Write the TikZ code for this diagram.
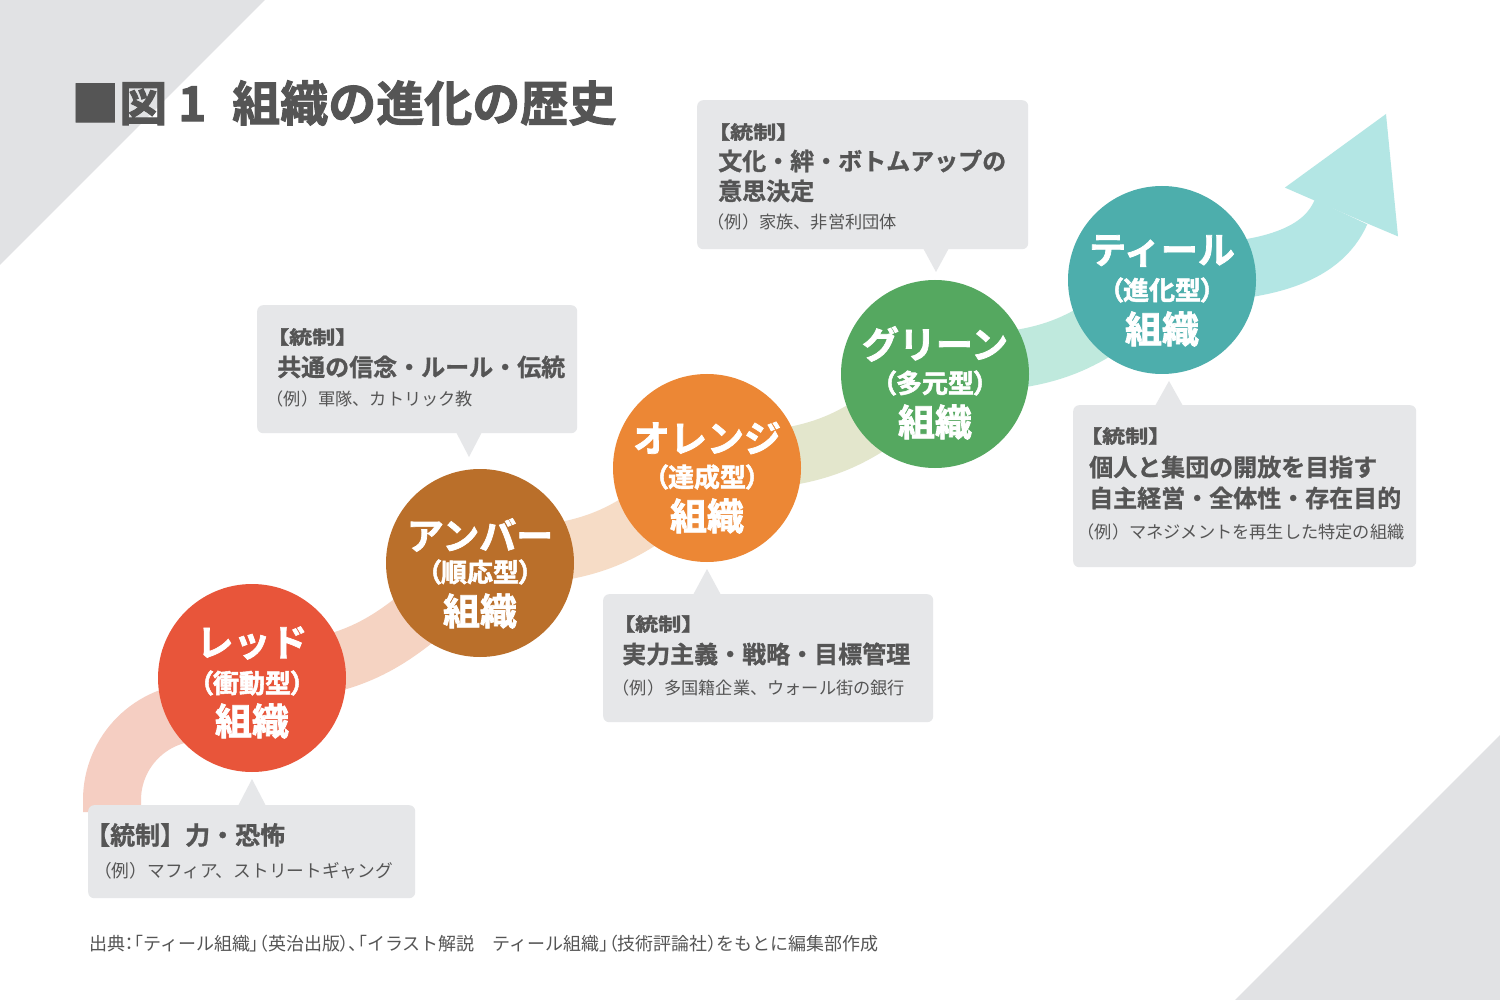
\documentclass[tikz,border=0pt]{standalone}
\usepackage{fontspec}
\setmainfont{Noto Sans CJK JP}[BoldFont={* Bold}]
\newfontfamily\jpp{Noto Sans CJK JP}[RawFeature=+palt]
\newfontfamily\jph{Noto Sans CJK JP Bold}[FakeBold=2]
\newfontfamily\jphp{Noto Sans CJK JP Bold}[FakeBold=2,RawFeature=+palt]
\newfontfamily\jpb{Noto Sans CJK JP Bold}[FakeBold=1]
\definecolor{bgtri}{HTML}{E1E2E4}
\definecolor{boxc}{HTML}{E6E7E9}
\definecolor{txtc}{HTML}{555555}
\definecolor{cRed}{HTML}{E8553A}
\definecolor{cAmb}{HTML}{BA6F2A}
\definecolor{cOra}{HTML}{EC8735}
\definecolor{cGre}{HTML}{55A860}
\definecolor{cTea}{HTML}{4DAEAC}
\definecolor{s0}{HTML}{F5CEC2}
\definecolor{s1}{HTML}{F5D3C2}
\definecolor{s2}{HTML}{F6DCC6}
\definecolor{s3}{HTML}{E3E6CC}
\definecolor{s4}{HTML}{BFE9DD}
\definecolor{s5}{HTML}{B3E6E4}
\newcommand\hdr{{\jph\scalebox{1}[0.8]{【統制】}}}
\tikzset{
  band/.style={line width=58pt, line cap=butt},
  circ/.style={circle, minimum size=188pt, inner sep=0pt},
  box/.style={fill=boxc, rounded corners=6pt, inner sep=0pt, anchor=north west},
  ptr/.style={fill=boxc},
  bt/.style={anchor=west, inner sep=0pt, text=txtc, font=\jpb\fontsize{24pt}{24pt}\selectfont},
  ht/.style={anchor=west, inner sep=0pt, text=txtc, font=\fontsize{23pt}{23pt}\selectfont},
  et/.style={anchor=west, inner sep=0pt, text=txtc, font=\fontsize{17.2pt}{17.2pt}\selectfont},
  nm/.style={inner sep=0pt, text=white, font=\jph\fontsize{37pt}{37pt}\selectfont},
  sb/.style={inner sep=0pt, text=white, font=\jphp\fontsize{26pt}{26pt}\selectfont},
}
\begin{document}
\begin{tikzpicture}[x=1pt,y=-1pt]
\useasboundingbox (0,0) rectangle (1500,1000);
\fill[white] (0,0) rectangle (1500,1000);
\fill[bgtri] (0,0) -- (265,0) -- (0,265) -- cycle;
\fill[bgtri] (1500,735) -- (1500,1000) -- (1235,1000) -- cycle;

% centres
\coordinate (cR) at (252,678);
\coordinate (cA) at (480,563);
\coordinate (cO) at (707,468);
\coordinate (cG) at (935,374);
\coordinate (cT) at (1162,280);
\coordinate (base) at (1341,212);
\coordinate (start) at (112,812);

% ribbon
\draw[band, draw=s0] (start) -- (112,800) .. controls (112,751.4) and (151.4,712) .. (200,712) -- (cR);
\draw[band, draw=s1] ([yshift=6pt]cR) .. controls +(120,0) and +(-75,65) .. (cA);
\draw[band, draw=s2] ([yshift=6pt]cA) .. controls +(120,0) and +(-75,65) .. (cO);
\draw[band, draw=s3] ([yshift=6pt]cO) .. controls +(120,0) and +(-75,65) .. (cG);
\draw[band, draw=s4] ([yshift=10pt]cG) .. controls +(120,0) and +(-75,65) .. (cT);
\draw[band, draw=s5] ([yshift=6pt]cT) .. controls +(100,0) and +(-20,46) .. (base);
\fill[s5] (1314.3,200.4) -- (1284.9,187.6) -- (1386,114) -- (1398,236.4) -- (1367.7,223.6) -- cycle;

% circles
\node[circ, fill=cRed] (red) at (cR) {};
\node[circ, fill=cAmb] (amber) at (cA) {};
\node[circ, fill=cOra] (orange) at (cO) {};
\node[circ, fill=cGre] (green) at (cG) {};
\node[circ, fill=cTea] (teal) at (cT) {};

\node[nm] (redN) at ([yshift=35pt]red.center) {レッド};
\node[sb] (redS) at ([yshift=-5pt]red.center) {（衝動型）};
\node[nm] (redO) at ([yshift=-43pt]red.center) {組織};

\node[nm] (ambN) at ([yshift=28pt]amber.center) {アンバー};
\node[sb] (ambS) at ([yshift=-9pt]amber.center) {（順応型）};
\node[nm] (ambO) at ([yshift=-48pt]amber.center) {組織};

\node[nm] (oraN) at ([yshift=30pt]orange.center) {オレンジ};
\node[sb] (oraS) at ([yshift=-9pt]orange.center) {（達成型）};
\node[nm] (oraO) at ([yshift=-48pt]orange.center) {組織};

\node[nm] (greN) at ([yshift=30pt]green.center) {グリーン};
\node[sb] (greS) at ([yshift=-9pt]green.center) {（多元型）};
\node[nm] (greO) at ([yshift=-48pt]green.center) {組織};

\node[nm] (teaN) at ([yshift=29pt]teal.center) {ティール};
\node[sb] (teaS) at ([yshift=-10pt]teal.center) {（進化型）};
\node[nm] (teaO) at ([yshift=-49pt]teal.center) {組織};

% boxes
\node[box, minimum width=327pt, minimum height=93pt] (b1) at (88,805) {};
\fill[ptr] (238,806) -- (252,779) -- (266,806) -- cycle;
\node[box, minimum width=320pt, minimum height=128pt] (b2) at (257,305) {};
\fill[ptr] (456,432) -- (469,457) -- (482,432) -- cycle;
\node[box, minimum width=330pt, minimum height=128pt] (b4) at (603,594) {};
\fill[ptr] (693,595) -- (707,569) -- (721,595) -- cycle;
\node[box, minimum width=331pt, minimum height=149pt] (b3) at (697,100) {};
\fill[ptr] (923,248) -- (936,272) -- (949,248) -- cycle;
\node[box, minimum width=343pt, minimum height=162pt] (b5) at (1073,405) {};
\fill[ptr] (1155,406) -- (1169,381) -- (1183,406) -- cycle;

% box texts
\node[bt, font=\jpb\fontsize{25pt}{25pt}\selectfont] (t1a) at (85,835) {【統制】力・恐怖};
\node[et, font=\fontsize{17.7pt}{17.7pt}\selectfont] (t1b) at (94,871) {（例）マフィア、ストリートギャング};

\node[ht] (t2a) at (266,337) {\hdr};
\node[bt] (t2b) at (277,367) {共通の信念・ルール・伝統};
\node[et] (t2c) at (266.5,399) {（例）軍隊、カトリック教};

\node[ht] (t3a) at (707,132) {\hdr};
\node[bt] (t3b) at (718,161) {文化・絆・ボトムアップの};
\node[bt] (t3c) at (718,191) {意思決定};
\node[et] (t3d) at (707.5,222) {（例）家族、非営利団体};

\node[ht] (t4a) at (612,624) {\hdr};
\node[bt] (t4b) at (622,654) {実力主義・戦略・目標管理};
\node[et] (t4c) at (612.5,688) {（例）多国籍企業、ウォール街の銀行};

\node[ht] (t5a) at (1079,436) {\hdr};
\node[bt] (t5b) at (1089,467) {個人と集団の開放を目指す};
\node[bt] (t5c) at (1089,498) {自主経営・全体性・存在目的};
\node[et] (t5d) at (1077.5,532) {（例）マネジメントを再生した特定の組織};

% title and source
\node[anchor=west, inner sep=0pt, text=txtc, font=\jph\fontsize{48pt}{48pt}\selectfont] (title) at (71,103) {■図 1\hspace{15pt} 組織の進化の歴史};
\node[anchor=west, inner sep=0pt, text=txtc, font=\fontsize{18pt}{18pt}\selectfont] (src) at (89,944) {出典{\jpp ：「}ティール組織{\jpp 」（}英治出版{\jpp ）、「}イラスト解説　ティール組織{\jpp 」（}技術評論社{\jpp ）}をもとに編集部作成};
\end{tikzpicture}
\end{document}
